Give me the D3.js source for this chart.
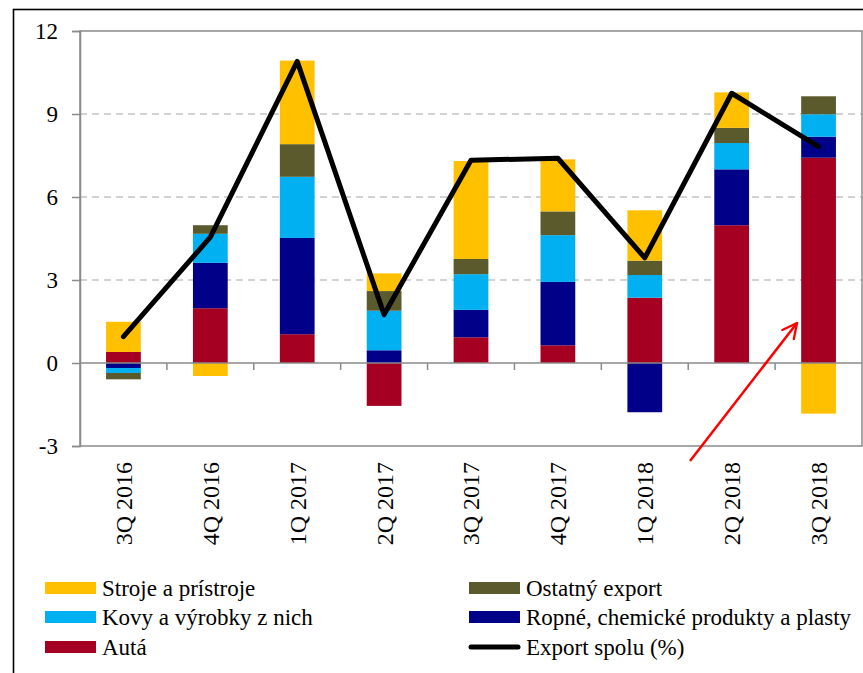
<!DOCTYPE html>
<html>
<head>
<meta charset="utf-8">
<script src="https://cdn.jsdelivr.net/npm/d3@7"></script>
<style>
  body { margin: 0; background: #fff; }
</style>
</head>
<body>
<svg id="chart"></svg>
<script>
const categories = ['3Q 2016', '4Q 2016', '1Q 2017', '2Q 2017', '3Q 2017', '4Q 2017', '1Q 2018', '2Q 2018', '3Q 2018'];
const auta = [0.40, 1.98, 1.04, -1.55, 0.93, 0.64, 2.36, 4.98, 7.42];
const ropne = [-0.18, 1.64, 3.48, 0.46, 0.99, 2.29, -1.78, 2.02, 0.76];
const kovy = [-0.18, 1.05, 2.21, 1.43, 1.29, 1.69, 0.82, 0.95, 0.81];
const ostatny = [-0.23, 0.31, 1.18, 0.71, 0.55, 0.86, 0.52, 0.55, 0.65];
const stroje = [1.09, -0.47, 3.02, 0.64, 3.54, 1.88, 1.82, 1.28, -1.83];
const exportSpolu = [0.95, 4.55, 10.9, 1.75, 7.33, 7.4, 3.8, 9.75, 7.82];
const yTicks = [-3, 0, 3, 6, 9, 12];

const serif = 'Liberation Serif';

// stacking order, bottom to top
const series = [
  { key: 'auta', name: 'Autá', values: auta, color: '#A50021' },
  { key: 'ropne', name: 'Ropné, chemické produkty a plasty', values: ropne, color: '#000088' },
  { key: 'kovy', name: 'Kovy a výrobky z nich', values: kovy, color: '#00B0F0' },
  { key: 'ostatny', name: 'Ostatný export', values: ostatny, color: '#5A5A2D' },
  { key: 'stroje', name: 'Stroje a prístroje', values: stroje, color: '#FFC000' }
];

const W = 863, H = 673;
const plot = { left: 80, right: 862, top: 31, bottom: 446 };

const svg = d3.select('#chart').attr('width', W).attr('height', H)
  .attr('font-family', serif);

// outer frame (cut off at right and bottom)
svg.append('rect')
  .attr('x', 13.5).attr('y', 9.5)
  .attr('width', 900).attr('height', 700)
  .attr('fill', 'none').attr('stroke', '#000').attr('stroke-width', 1.6);

const x = d3.scaleBand()
  .domain(categories)
  .range([plot.left, plot.right])
  .paddingInner(0.6)
  .paddingOuter(0.3);

const y = d3.scaleLinear()
  .domain([-3, 12])
  .range([plot.bottom, plot.top]);

// gridlines
svg.append('g')
  .selectAll('line')
  .data(yTicks.filter(d => d > 0 && d < 12))
  .enter()
  .append('line')
  .attr('x1', plot.left).attr('x2', plot.right)
  .attr('y1', d => y(d)).attr('y2', d => y(d))
  .attr('stroke', '#c3c3c3')
  .attr('stroke-width', 1.5)
  .attr('stroke-dasharray', '7,5');

// plot border
svg.append('rect')
  .attr('x', plot.left).attr('y', plot.top)
  .attr('width', plot.right - plot.left).attr('height', plot.bottom - plot.top)
  .attr('fill', 'none').attr('stroke', '#8a8a8a').attr('stroke-width', 1.5);

// bars
const table = categories.map((c, i) => {
  const row = { cat: c };
  series.forEach(s => { row[s.key] = s.values[i]; });
  return row;
});

const stacked = d3.stack()
  .keys(series.map(s => s.key))
  .offset(d3.stackOffsetDiverging)(table);

svg.append('g')
  .selectAll('g')
  .data(stacked)
  .enter()
  .append('g')
  .attr('fill', (d, i) => series[i].color)
  .selectAll('rect')
  .data(d => d)
  .enter()
  .append('rect')
  .attr('x', d => x(d.data.cat))
  .attr('width', x.bandwidth())
  .attr('y', d => y(Math.max(d[0], d[1])))
  .attr('height', d => Math.abs(y(d[0]) - y(d[1])));

// y axis
const yAxis = svg.append('g')
  .attr('transform', `translate(${plot.left},0)`)
  .call(d3.axisLeft(y).tickValues(yTicks).tickFormat(d => String(d)).tickSize(8).tickPadding(14));
yAxis.attr('font-family', serif).attr('font-size', 23);
yAxis.select('.domain').attr('stroke', '#8a8a8a').attr('stroke-width', 1.5);
yAxis.selectAll('.tick line').attr('stroke', '#8a8a8a').attr('stroke-width', 1.5);
yAxis.selectAll('.tick text').attr('fill', '#000');

// zero line with ticks between categories
svg.append('line')
  .attr('x1', plot.left).attr('x2', plot.right)
  .attr('y1', y(0)).attr('y2', y(0))
  .attr('stroke', '#8a8a8a').attr('stroke-width', 1.5);

svg.append('g')
  .selectAll('line')
  .data(categories.slice(0, -1))
  .enter()
  .append('line')
  .attr('x1', d => x(d) + x.bandwidth() / 2 + x.step() / 2)
  .attr('x2', d => x(d) + x.bandwidth() / 2 + x.step() / 2)
  .attr('y1', y(0)).attr('y2', y(0) + 7)
  .attr('stroke', '#8a8a8a').attr('stroke-width', 1.5);

// category labels
svg.append('g')
  .selectAll('text')
  .data(categories)
  .enter()
  .append('text')
  .attr('transform', d => `translate(${x(d) + x.bandwidth() / 2},462) rotate(-90)`)
  .attr('dy', '0.35em')
  .attr('text-anchor', 'end')
  .attr('font-size', 24)
  .text(d => d);

// total export line
const line = d3.line()
  .x((d, i) => x(categories[i]) + x.bandwidth() / 2)
  .y(d => y(d));

svg.append('path')
  .datum(exportSpolu)
  .attr('d', line)
  .attr('fill', 'none')
  .attr('stroke', '#000')
  .attr('stroke-width', 5)
  .attr('stroke-linejoin', 'round')
  .attr('stroke-linecap', 'round');

// red arrow annotation
svg.append('defs').append('marker')
  .attr('id', 'head')
  .attr('viewBox', '0 0 12 12')
  .attr('refX', 11).attr('refY', 6)
  .attr('markerWidth', 7).attr('markerHeight', 7)
  .attr('markerUnits', 'strokeWidth')
  .attr('orient', 'auto')
  .append('path')
  .attr('d', 'M1,1 L11,6 L1,11')
  .attr('fill', 'none')
  .attr('stroke', '#FF0000')
  .attr('stroke-width', 1.6)
  .attr('stroke-linecap', 'round');

svg.append('line')
  .attr('x1', 690).attr('y1', 461)
  .attr('x2', 797).attr('y2', 323)
  .attr('stroke', '#FF0000')
  .attr('stroke-width', 2.5)
  .attr('marker-end', 'url(#head)');

// legend
const legendItems = [
  { name: 'Stroje a prístroje', color: '#FFC000', col: 0, row: 0 },
  { name: 'Ostatný export', color: '#5A5A2D', col: 1, row: 0 },
  { name: 'Kovy a výrobky z nich', color: '#00B0F0', col: 0, row: 1 },
  { name: 'Ropné, chemické produkty a plasty', color: '#000088', col: 1, row: 1 },
  { name: 'Autá', color: '#A50021', col: 0, row: 2 },
  { name: 'Export spolu (%)', color: '#000', col: 1, row: 2, line: true }
];
const colX = [45, 469];
const rowY = [588, 617, 647];

const legend = svg.append('g')
  .selectAll('g')
  .data(legendItems)
  .enter()
  .append('g')
  .attr('transform', d => `translate(${colX[d.col]},${rowY[d.row]})`);

legend.filter(d => !d.line).append('rect')
  .attr('x', 0).attr('y', -6)
  .attr('width', 51).attr('height', 12)
  .attr('fill', d => d.color);

legend.filter(d => d.line).append('line')
  .attr('x1', 2).attr('x2', 49)
  .attr('y1', 0).attr('y2', 0)
  .attr('stroke', '#000').attr('stroke-width', 5)
  .attr('stroke-linecap', 'round');

legend.append('text')
  .attr('x', 57)
  .attr('dy', '0.35em')
  .attr('font-size', 23)
  .text(d => d.name);
</script>
</body>
</html>
